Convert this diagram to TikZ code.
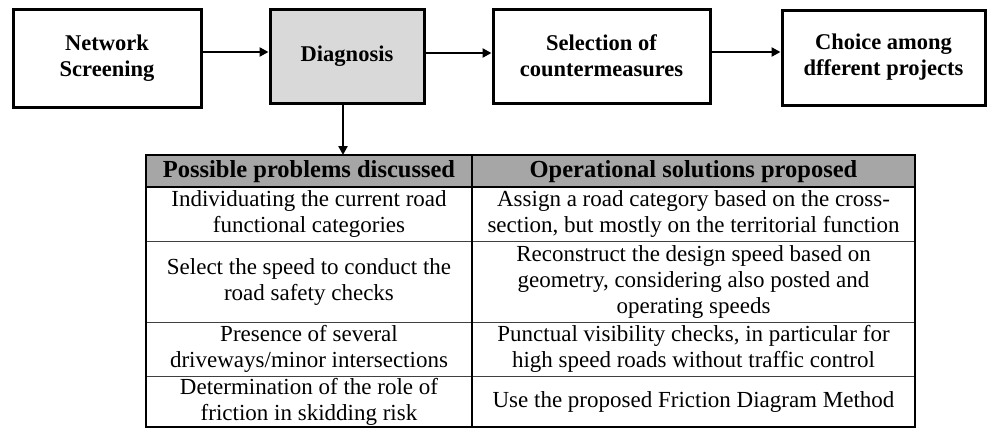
\documentclass[tikz,border=0pt]{standalone}
\usepackage{fontspec}
\setmainfont{Liberation Serif}
\usetikzlibrary{arrows.meta}
\definecolor{boxgray}{HTML}{D9D9D9}
\definecolor{headgray}{HTML}{A6A6A6}
\tikzset{
  stepbox/.style={draw=black, line width=3pt, align=center, inner sep=0pt,
    font=\fontsize{22.5}{26}\selectfont\bfseries},
  flow/.style={line width=2.5pt, -{Triangle[length=9pt,width=9pt]}},
  headtxt/.style={align=center, inner sep=0pt, font=\fontsize{24.5}{28}\selectfont\bfseries},
  celltxt/.style={align=center, inner sep=0pt, font=\fontsize{23}{26}\selectfont},
  thickrule/.style={line width=2pt},
  thinrule/.style={line width=1pt, draw=black!75},
}
\begin{document}
\begin{tikzpicture}[x=1pt,y=-1pt]
\useasboundingbox (0,0) rectangle (987,432);
% top flow
\node[stepbox, minimum width=188pt, minimum height=98pt] (ns) at (107,58) {Network\\Screening};
\node[stepbox, fill=boxgray, minimum width=154pt, minimum height=94pt] (dg) at (347,56) {Diagnosis};
\node[stepbox, minimum width=217pt, minimum height=94pt] (sc) at (601.5,56) {Selection of\\countermeasures};
\node[stepbox, minimum width=203pt, minimum height=95pt] (ch) at (883.5,57.5) {Choice among\\dfferent projects};
\draw[flow] (ns.east |- 0,52) -- (dg.west |- 0,52);
\draw[flow] (dg.east |- 0,53) -- (sc.west |- 0,53);
\draw[flow] (sc.east |- 0,52) -- (ch.west |- 0,52);
% table
\fill[headgray] (146,155) rectangle (915,187);
\coordinate (tabtop) at (343,155);
\draw[flow] (dg.south -| 343,0) -- (tabtop);
\draw[thinrule] (146,241) -- (915,241);
\draw[thinrule] (146,322) -- (915,322);
\draw[thinrule] (146,376) -- (915,376);
\draw[thickrule] (146,187) -- (915,187);
\draw[thickrule] (472,155) -- (472,427);
\draw[thickrule] (146,155) rectangle (915,427);
% header
\node[headtxt] (h1) at (309,171.5) {Possible problems discussed};
\node[headtxt] (h2) at (693.5,171.5) {Operational solutions proposed};
% rows
\node[celltxt] (a1) at (309,214) {Individuating the current road\\functional categories};
\node[celltxt] (b1) at (693.5,214) {Assign a road category based on the cross-\\section, but mostly on the territorial function};
\node[celltxt] (a2) at (309,281.5) {Select the speed to conduct the\\road safety checks};
\node[celltxt] (b2) at (693.5,281.5) {Reconstruct the design speed based on\\geometry, considering also posted and\\operating speeds};
\node[celltxt] (a3) at (309,349) {Presence of several\\driveways/minor intersections};
\node[celltxt] (b3) at (693.5,349) {Punctual visibility checks, in particular for\\high speed roads without traffic control};
\node[celltxt] (a4) at (309,401.5) {Determination of the role of\\friction in skidding risk};
\node[celltxt] (b4) at (693.5,401.5) {Use the proposed Friction Diagram Method};
\end{tikzpicture}
\end{document}
